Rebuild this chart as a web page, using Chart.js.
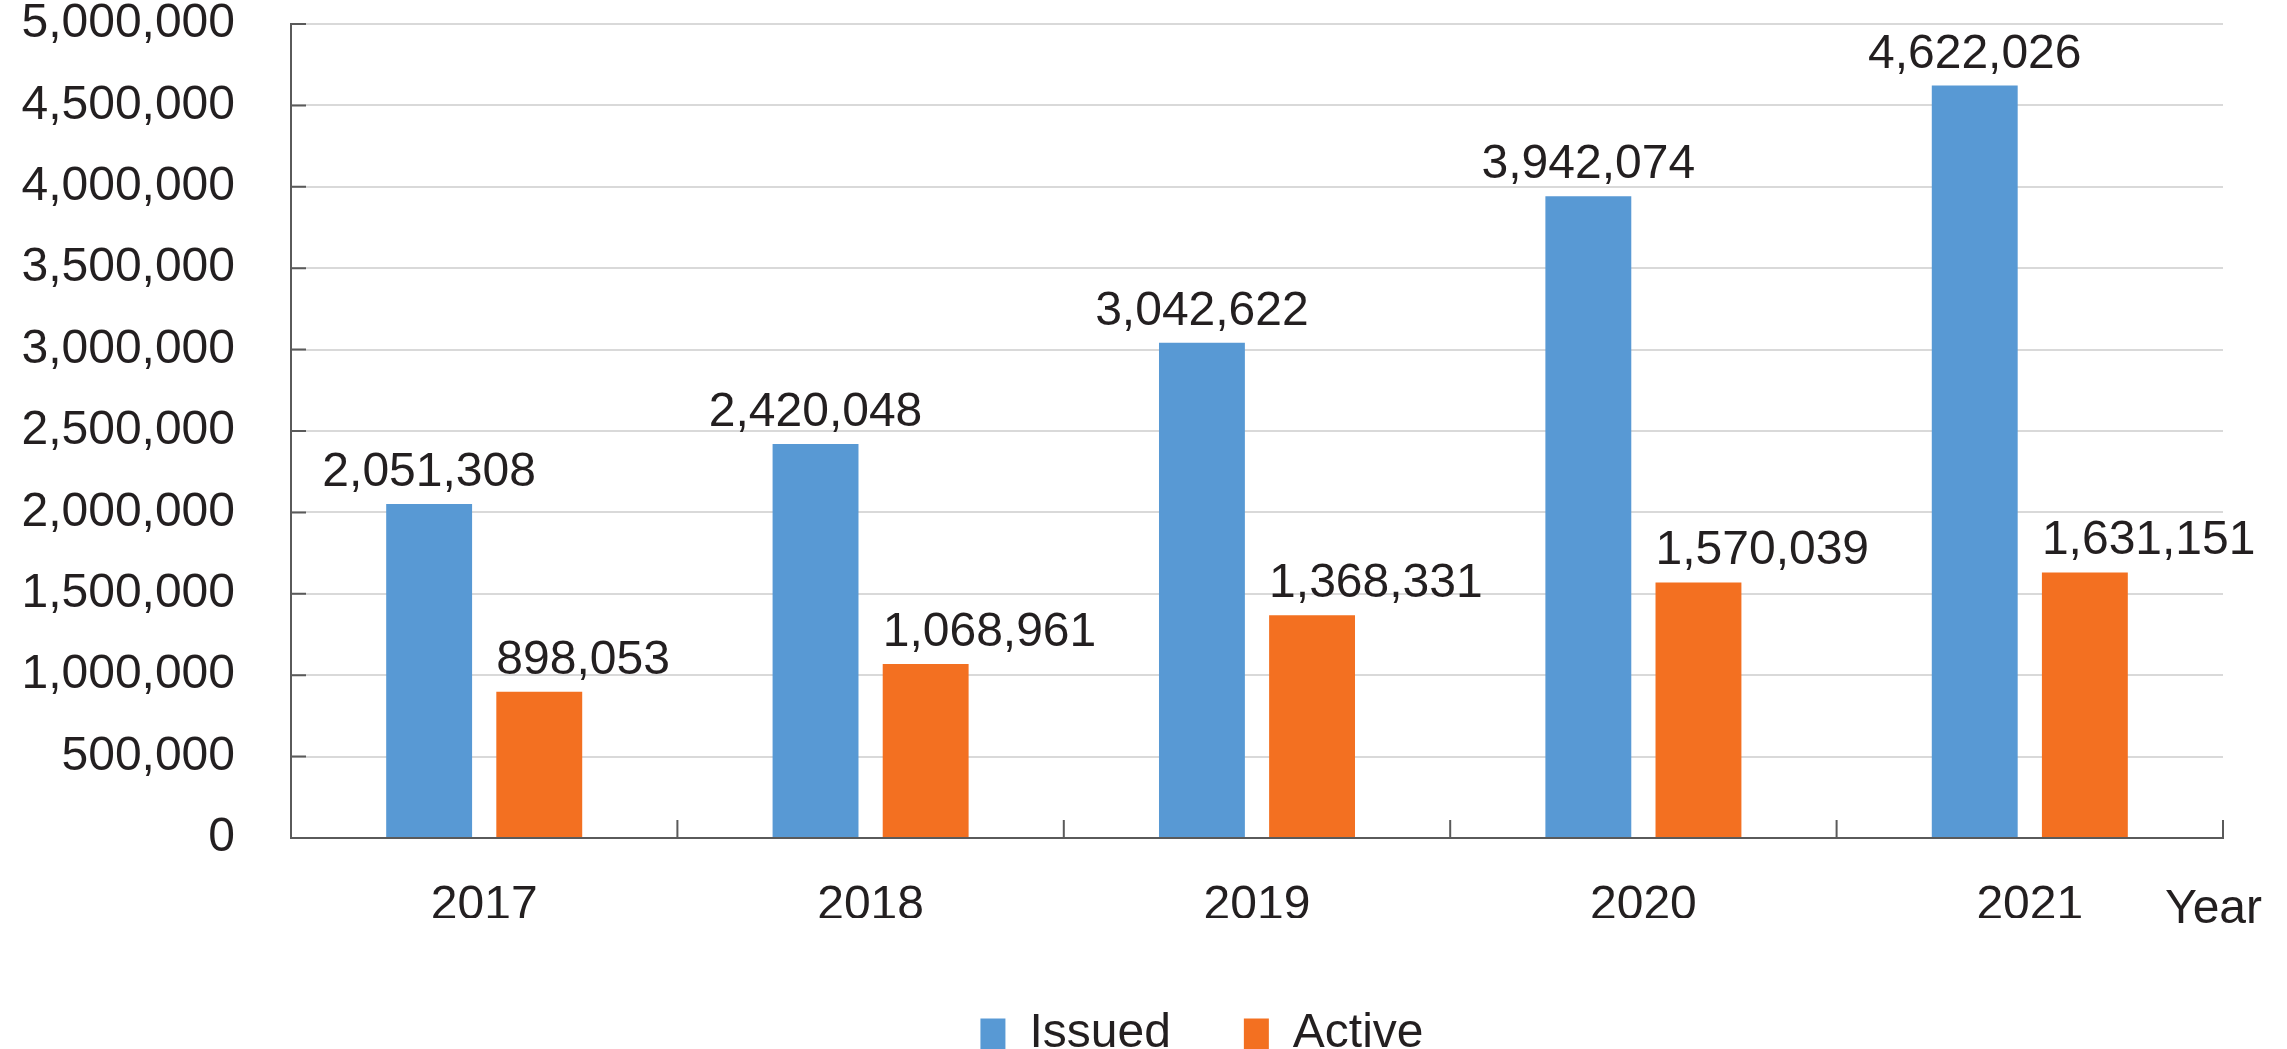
<!DOCTYPE html>
<html>
<head>
<meta charset="utf-8">
<title>Issued and active, 2017-2021</title>
<script src="https://cdn.jsdelivr.net/npm/chart.js@4/dist/chart.umd.min.js"></script>
<style>
  html, body { margin: 0; padding: 0; background: #fff; }
  #wrap { width: 2287px; height: 1049px; }
</style>
</head>
<body>
<div id="wrap"><canvas id="chart"></canvas></div>
<script>
const years = ['2017', '2018', '2019', '2020', '2021'];
const issued = [2051308, 2420048, 3042622, 3942074, 4622026];
const active = [898053, 1068961, 1368331, 1570039, 1631151];
const seriesNames = ['Issued', 'Active'];
const yMax = 5000000;
const yStep = 500000;
const xTitle = 'Year';

const fontFamily = '"Liberation Sans", Arial, Helvetica, sans-serif';
const ink = '#231f20';
const axisGray = '#5a5a5a';
const fmt = v => Number(v).toLocaleString('en-US');

// numbers over the bars: blue ones centred, orange ones start at the bar's left edge
const valueLabels = {
  id: 'valueLabels',
  afterDatasetsDraw(chart) {
    const ctx = chart.ctx;
    ctx.save();
    ctx.font = `48px ${fontFamily}`;
    ctx.fillStyle = ink;
    ctx.textBaseline = 'alphabetic';
    chart.data.datasets.forEach((ds, i) => {
      chart.getDatasetMeta(i).data.forEach((bar, j) => {
        const leftAligned = i === 1;
        ctx.textAlign = leftAligned ? 'left' : 'center';
        const x = leftAligned ? bar.x - bar.width / 2 : bar.x;
        ctx.fillText(fmt(ds.data[j]), x, bar.y - 18);
      });
    });
    ctx.restore();
  }
};

// short inward tick marks on both axes, plus the "Year" caption
const axisMarks = {
  id: 'axisMarks',
  afterLayout(chart) {
    // legend sits a bit lower and further left in the original
    const lg = chart.legend;
    lg.top += 19;
    lg.bottom += 19;
    lg.left -= 55;
    lg.right -= 55;
  },
  afterDraw(chart) {
    const { ctx, scales: { x, y } } = chart;
    ctx.save();
    ctx.strokeStyle = axisGray;
    ctx.lineWidth = 2;
    ctx.beginPath();
    y.ticks.forEach(t => {
      const py = y.getPixelForValue(t.value);
      ctx.moveTo(x.left, py);
      ctx.lineTo(x.left + 15, py);
    });
    const n = years.length;
    for (let i = 0; i < n; i++) {
      const px = i < n - 1
        ? (x.getPixelForValue(i) + x.getPixelForValue(i + 1)) / 2
        : x.right;
      ctx.moveTo(px, y.bottom);
      ctx.lineTo(px, y.bottom - 18);
    }
    ctx.stroke();

    ctx.font = `48px ${fontFamily}`;
    ctx.fillStyle = ink;
    ctx.textAlign = 'right';
    ctx.textBaseline = 'alphabetic';
    ctx.fillText(xTitle, chart.width - 25, y.bottom + 85);
    ctx.restore();
  }
};

new Chart(document.getElementById('chart'), {
  type: 'bar',
  data: {
    labels: years,
    datasets: [
      {
        label: seriesNames[0],
        data: issued,
        backgroundColor: '#5899d4',
        categoryPercentage: 0.57,
        barPercentage: 0.78
      },
      {
        label: seriesNames[1],
        data: active,
        backgroundColor: '#f37021',
        categoryPercentage: 0.57,
        barPercentage: 0.78
      }
    ]
  },
  options: {
    responsive: true,
    maintainAspectRatio: false,
    animation: false,
    layout: { padding: { left: 17, right: 64, top: 0, bottom: 0 } },
    plugins: {
      tooltip: { enabled: false },
      legend: {
        position: 'bottom',
        fullSize: false,
        labels: {
          boxWidth: 25,
          boxHeight: 31,
          padding: 73,
          color: ink,
          font: { family: fontFamily, size: 48, lineHeight: 1 }
        }
      }
    },
    scales: {
      x: {
        grid: { display: false },
        border: { color: axisGray, width: 2 },
        ticks: {
          color: ink,
          padding: 36,
          font: { family: fontFamily, size: 48, lineHeight: 1 }
        },
        afterFit(scale) { scale.height = 80; }
      },
      y: {
        min: 0,
        max: yMax,
        ticks: {
          stepSize: yStep,
          color: ink,
          padding: 56,
          font: { family: fontFamily, size: 48, lineHeight: 1 },
          callback: v => fmt(v)
        },
        grid: { color: '#d9d9d9', lineWidth: 2, drawTicks: false },
        border: { color: axisGray, width: 2 },
        afterFit(scale) {
          scale.width = 274;
          // only half a label of room above the top tick
          scale.paddingTop = 24;
          scale.paddingBottom = 24;
        }
      }
    }
  },
  plugins: [valueLabels, axisMarks]
});
</script>
</body>
</html>
